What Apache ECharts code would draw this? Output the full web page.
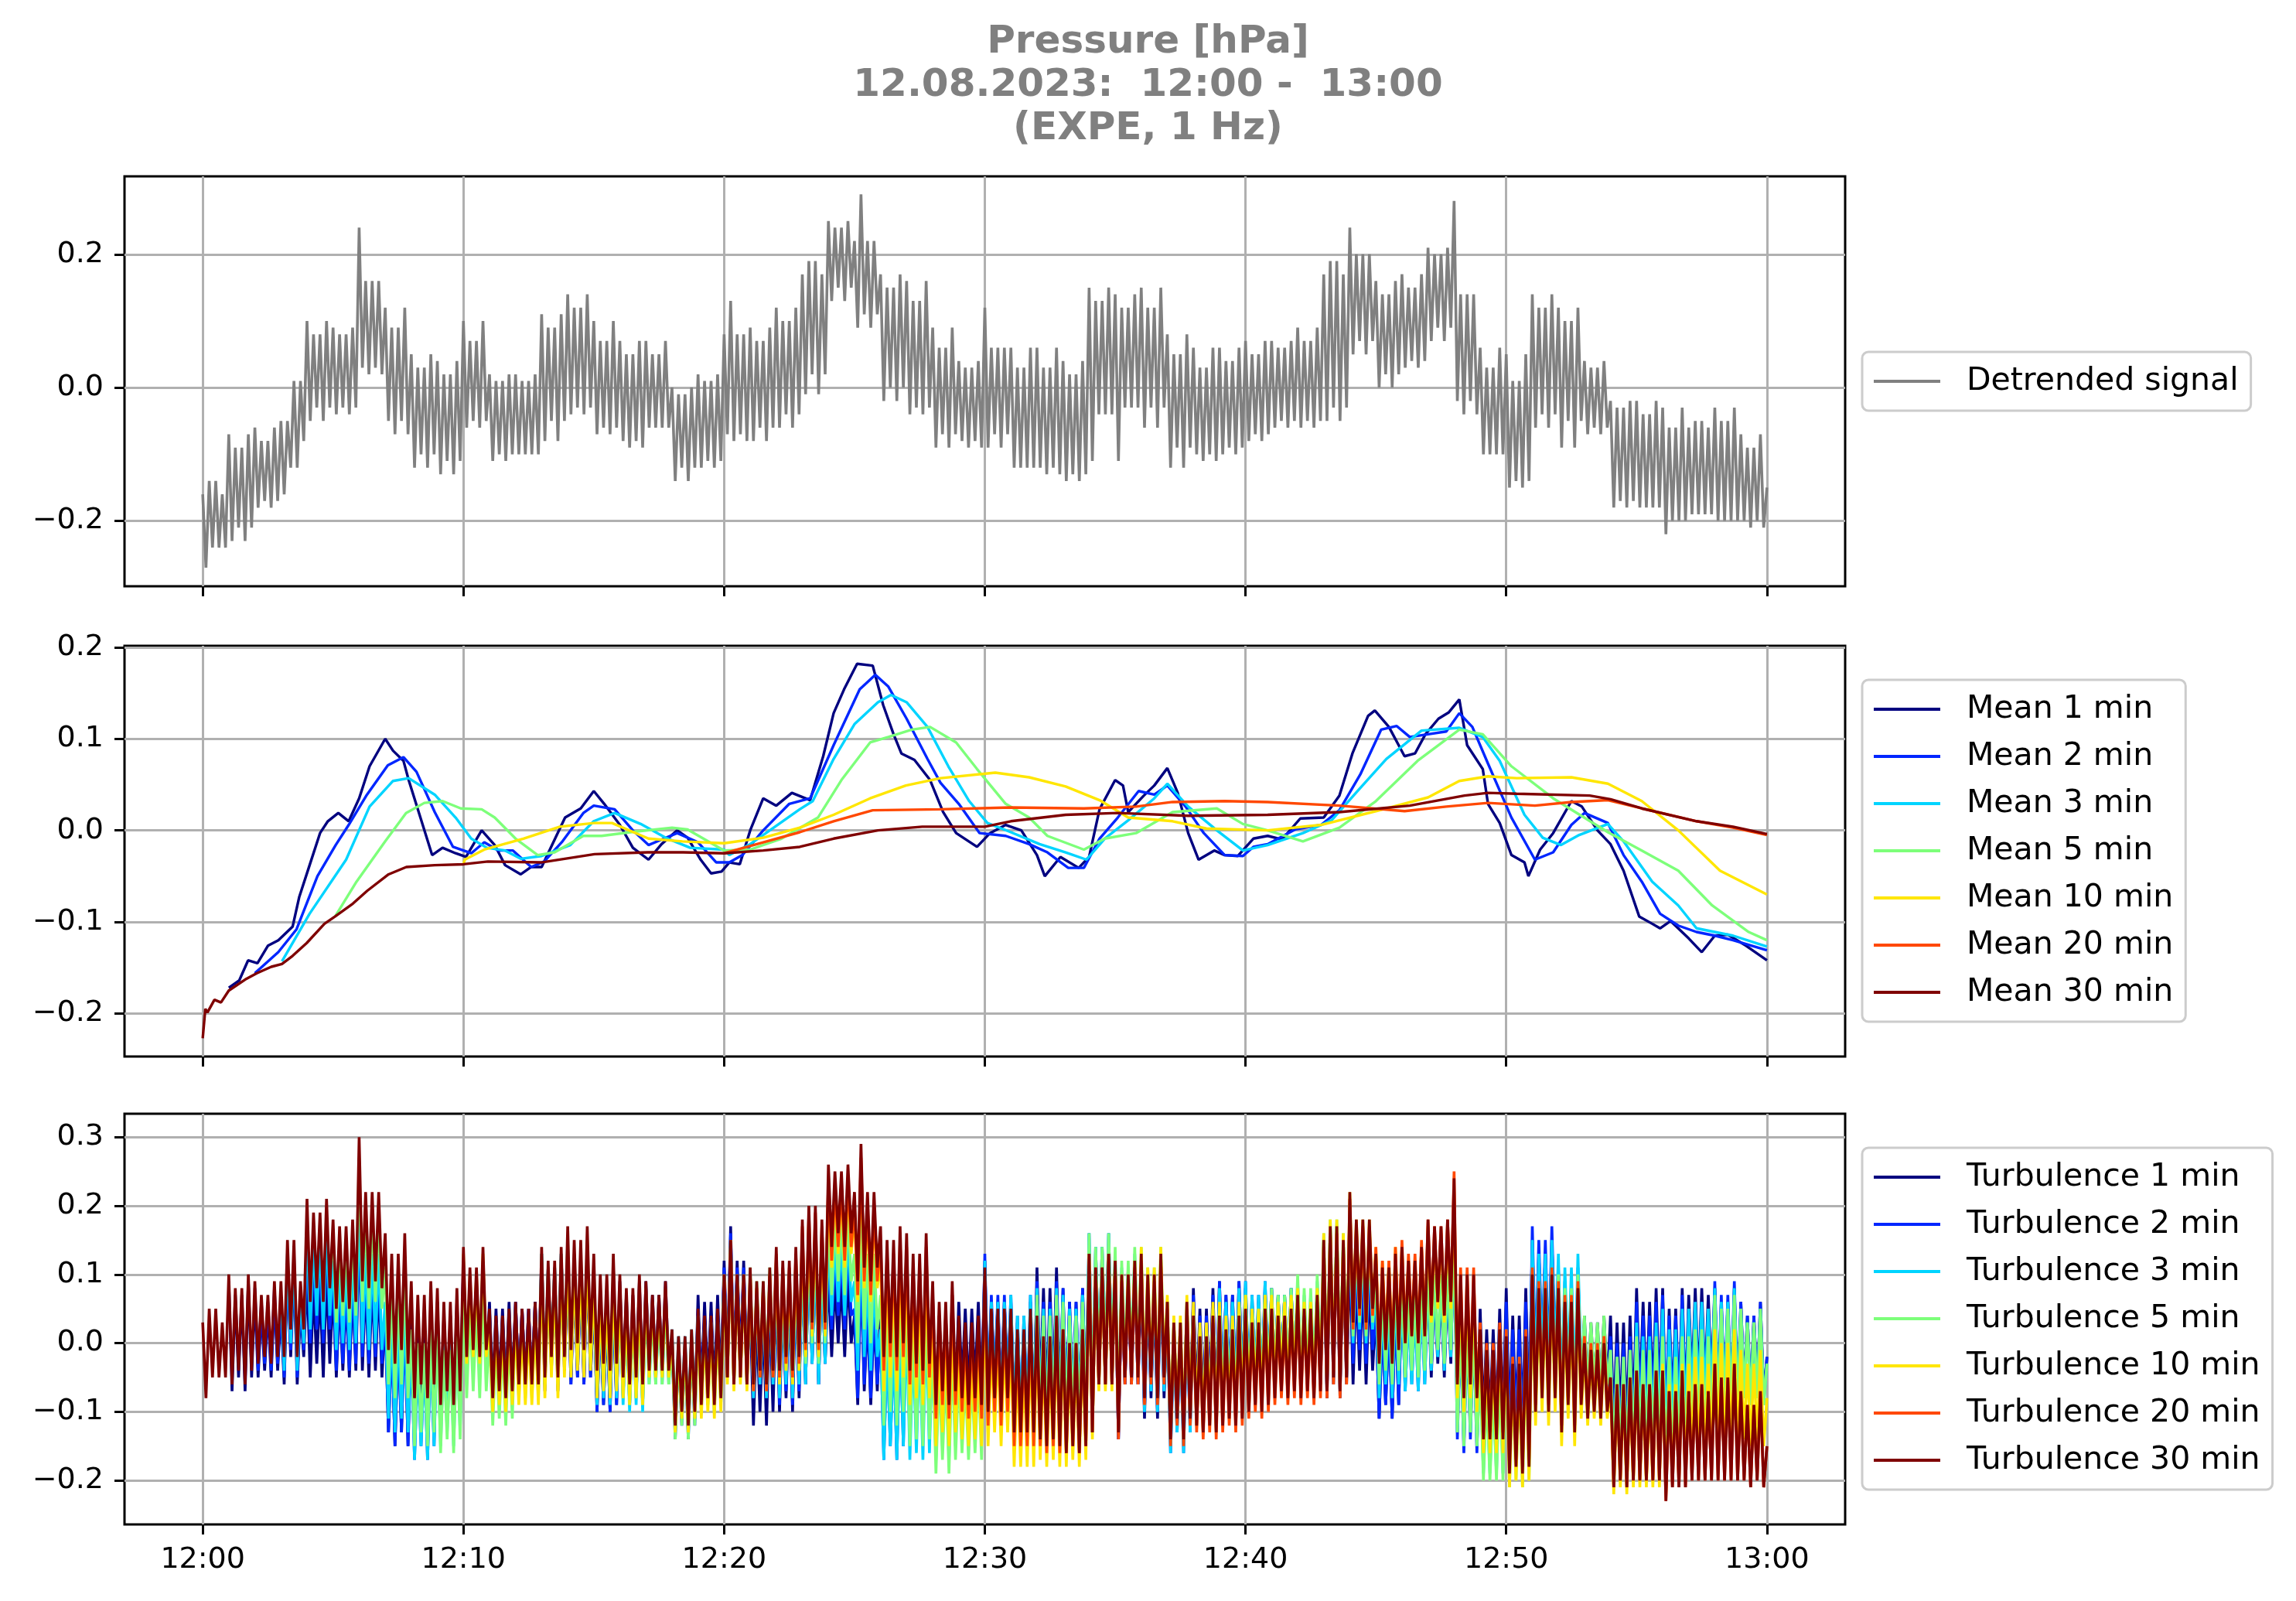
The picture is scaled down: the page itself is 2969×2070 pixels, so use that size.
<!DOCTYPE html>
<html>
<head>
<meta charset="utf-8">
<title>Pressure [hPa] 12.08.2023</title>
<script src="https://cdn.jsdelivr.net/npm/echarts@6.0.0/dist/echarts.min.js"></script>
<style>
  html, body { margin: 0; padding: 0; background: #fff; }
  #chart { width: 2969px; height: 2070px; }
</style>
</head>
<body>
<div id="chart"></div>
<script>
// ---- data (minutes after 12:00, hPa) ----
var stepMin = 0.125;

var signal = [
  -0.16,-0.27,-0.14,-0.24,-0.14,-0.24,-0.16,-0.24, -0.07,-0.23,-0.09,-0.21,-0.09,-0.23,-0.07,-0.21,
  -0.06,-0.18,-0.08,-0.17,-0.08,-0.18,-0.06,-0.17, -0.05,-0.16,-0.05,-0.12,0.01,-0.12,0.01,-0.08,
  0.10,-0.05,0.08,-0.03,0.08,-0.05,0.10,-0.03, 0.09,-0.04,0.08,-0.03,0.08,-0.04,0.09,-0.03,
  0.24,0.03,0.16,0.02,0.16,0.03,0.16,0.02, 0.12,-0.05,0.09,-0.07,0.09,-0.05,0.12,-0.07,
  0.05,-0.12,0.03,-0.10,0.03,-0.12,0.05,-0.10, 0.04,-0.13,0.02,-0.11,0.02,-0.13,0.04,-0.11,
  0.10,-0.06,0.07,-0.05,0.07,-0.06,0.10,-0.05, 0.02,-0.11,0.01,-0.10,0.01,-0.11,0.02,-0.10,
  0.02,-0.10,0.01,-0.10,0.01,-0.10,0.02,-0.10, 0.11,-0.08,0.09,-0.05,0.09,-0.08,0.11,-0.05,
  0.14,-0.04,0.12,-0.03,0.12,-0.04,0.14,-0.03, 0.10,-0.07,0.07,-0.06,0.07,-0.07,0.10,-0.06,
  0.07,-0.08,0.05,-0.09,0.05,-0.08,0.07,-0.09, 0.07,-0.06,0.05,-0.06,0.05,-0.06,0.07,-0.06,
  0.00,-0.14,-0.01,-0.12,-0.01,-0.14,0.00,-0.12, 0.02,-0.12,0.01,-0.11,0.01,-0.12,0.02,-0.11,
  0.08,-0.07,0.13,-0.08,0.08,-0.07,0.08,-0.08, 0.09,-0.08,0.07,-0.06,0.07,-0.08,0.09,-0.06,
  0.12,-0.06,0.10,-0.04,0.10,-0.06,0.12,-0.04, 0.17,-0.01,0.19,0.02,0.19,-0.01,0.17,0.02,
  0.25,0.13,0.24,0.15,0.24,0.13,0.25,0.15, 0.22,0.09,0.29,0.11,0.22,0.09,0.22,0.11,
  0.17,-0.02,0.15,0.00,0.15,-0.02,0.17,0.00, 0.16,-0.04,0.13,-0.03,0.13,-0.04,0.16,-0.03,
  0.09,-0.09,0.06,-0.07,0.06,-0.09,0.09,-0.07, 0.04,-0.08,0.03,-0.09,0.03,-0.08,0.04,-0.09,
  0.12,-0.09,0.06,-0.07,0.06,-0.09,0.06,-0.07, 0.06,-0.12,0.03,-0.12,0.03,-0.12,0.06,-0.12,
  0.06,-0.12,0.03,-0.13,0.03,-0.12,0.06,-0.13, 0.04,-0.14,0.02,-0.13,0.02,-0.14,0.04,-0.13,
  0.15,-0.11,0.13,-0.04,0.13,-0.04,0.15,-0.04, 0.14,-0.11,0.12,-0.03,0.12,-0.03,0.14,-0.03,
  0.15,-0.06,0.12,-0.03,0.12,-0.06,0.15,-0.03, 0.08,-0.12,0.05,-0.09,0.05,-0.12,0.08,-0.09,
  0.06,-0.10,0.03,-0.11,0.03,-0.10,0.06,-0.11, 0.06,-0.10,0.04,-0.09,0.04,-0.10,0.06,-0.09,
  0.07,-0.08,0.05,-0.07,0.05,-0.08,0.07,-0.07, 0.07,-0.06,0.06,-0.05,0.06,-0.06,0.07,-0.05,
  0.09,-0.06,0.07,-0.05,0.07,-0.06,0.09,-0.05, 0.17,-0.05,0.19,-0.03,0.19,-0.05,0.17,-0.03,
  0.24,0.05,0.20,0.07,0.20,0.05,0.20,0.07, 0.16,0.00,0.14,0.02,0.14,0.00,0.16,0.02,
  0.17,0.03,0.15,0.04,0.15,0.03,0.17,0.04, 0.21,0.07,0.20,0.09,0.20,0.07,0.21,0.09,
  0.28,-0.02,0.14,-0.04,0.14,-0.02,0.14,-0.04, 0.06,-0.10,0.03,-0.10,0.03,-0.10,0.06,-0.10,
  0.05,-0.15,0.01,-0.14,0.01,-0.15,0.05,-0.14, 0.14,-0.06,0.12,-0.04,0.12,-0.06,0.14,-0.04,
  0.12,-0.09,0.10,-0.05,0.10,-0.09,0.12,-0.05, 0.04,-0.07,0.03,-0.06,0.03,-0.07,0.04,-0.06,
  -0.02,-0.18,-0.03,-0.17,-0.03,-0.18,-0.02,-0.17, -0.02,-0.18,-0.04,-0.18,-0.04,-0.18,-0.02,-0.18,
  -0.03,-0.22,-0.06,-0.20,-0.06,-0.20,-0.03,-0.20, -0.06,-0.19,-0.05,-0.19,-0.05,-0.19,-0.06,-0.19,
  -0.03,-0.20,-0.05,-0.20,-0.05,-0.20,-0.03,-0.20, -0.07,-0.20,-0.09,-0.21,-0.09,-0.20,-0.07,-0.21,
  -0.15
];

// moving means, [minute, value]
var mean1 = [[1.0,-0.172],[1.4,-0.164],[1.74,-0.142],[2.1,-0.145],[2.5,-0.126],[2.9,-0.120],[3.45,-0.105],[3.7,-0.073],[4.1,-0.038],[4.5,-0.003],[4.8,0.010],[5.2,0.019],[5.6,0.010],[6.0,0.035],[6.4,0.070],[7.0,0.100],[7.3,0.087],[7.7,0.076],[7.9,0.055],[8.35,0.014],[8.8,-0.027],[9.2,-0.019],[9.7,-0.025],[10.1,-0.029],[10.7,0.0],[11.2,-0.016],[11.6,-0.038],[12.2,-0.048],[12.6,-0.040],[13.0,-0.040],[13.4,-0.016],[13.9,0.014],[14.5,0.024],[15.0,0.043],[15.4,0.029],[16.0,0.006],[16.5,-0.019],[17.1,-0.032],[17.6,-0.015],[18.2,0.0],[18.6,-0.008],[19.1,-0.032],[19.5,-0.047],[19.9,-0.045],[20.2,-0.035],[20.6,-0.037],[21.0,0.0],[21.5,0.035],[22.0,0.027],[22.6,0.041],[23.3,0.033],[23.8,0.081],[24.2,0.128],[24.6,0.154],[25.1,0.182],[25.7,0.180],[26.1,0.137],[26.5,0.105],[26.8,0.084],[27.3,0.077],[27.9,0.055],[28.4,0.020],[28.9,-0.003],[29.7,-0.018],[30.2,-0.003],[30.8,0.006],[31.4,0.0],[32.0,-0.027],[32.3,-0.050],[32.9,-0.029],[33.6,-0.041],[34.0,-0.029],[34.4,0.023],[35.0,0.055],[35.3,0.049],[35.5,0.020],[36.1,0.038],[36.5,0.049],[37.0,0.068],[37.4,0.041],[37.8,-0.003],[38.2,-0.032],[38.8,-0.022],[39.2,-0.027],[39.7,-0.028],[40.3,-0.009],[40.85,-0.006],[41.4,-0.010],[42.1,0.013],[43.0,0.014],[43.6,0.038],[44.1,0.084],[44.7,0.125],[44.96,0.131],[45.5,0.113],[46.1,0.081],[46.5,0.084],[46.9,0.105],[47.4,0.122],[47.8,0.129],[48.2,0.143],[48.5,0.093],[49.1,0.067],[49.3,0.029],[49.75,0.008],[50.2,-0.027],[50.7,-0.035],[50.85,-0.050],[51.3,-0.021],[51.8,-0.003],[52.5,0.032],[52.9,0.026],[53.5,0.0],[54.0,-0.015],[54.5,-0.044],[55.1,-0.094],[55.6,-0.102],[55.9,-0.107],[56.3,-0.099],[57.0,-0.118],[57.5,-0.133],[58.0,-0.115],[58.5,-0.114],[59.2,-0.126],[60,-0.142]];
var mean2 = [[2.0,-0.156],[2.9,-0.133],[3.6,-0.108],[4.4,-0.050],[5.1,-0.016],[5.6,0.006],[6.3,0.039],[7.1,0.071],[7.7,0.080],[8.2,0.064],[8.9,0.020],[9.6,-0.018],[10.3,-0.025],[10.8,-0.013],[11.35,-0.022],[11.9,-0.022],[12.6,-0.040],[13.1,-0.034],[13.8,-0.012],[14.6,0.019],[15.0,0.027],[15.8,0.023],[16.5,0.0],[17.1,-0.016],[17.6,-0.010],[18.2,-0.003],[19.0,-0.013],[19.7,-0.035],[20.2,-0.035],[20.7,-0.027],[21.5,0.0],[22.5,0.029],[23.3,0.035],[24.2,0.093],[25.2,0.154],[25.8,0.170],[26.3,0.157],[27.0,0.122],[27.8,0.078],[28.3,0.052],[29.0,0.029],[29.8,-0.003],[30.8,-0.006],[31.7,-0.015],[32.4,-0.024],[33.2,-0.041],[33.8,-0.041],[34.4,-0.009],[35.1,0.014],[35.9,0.043],[36.5,0.039],[37.0,0.049],[37.7,0.026],[38.4,-0.003],[39.2,-0.027],[39.9,-0.028],[40.3,-0.018],[40.85,-0.015],[41.9,0.001],[42.9,0.006],[43.6,0.022],[44.4,0.061],[45.2,0.110],[45.8,0.114],[46.3,0.102],[47.0,0.105],[47.7,0.108],[48.2,0.128],[48.7,0.113],[49.3,0.073],[50.2,0.014],[51.1,-0.032],[51.8,-0.024],[52.5,0.006],[53.0,0.019],[53.9,0.008],[54.5,-0.027],[55.2,-0.056],[55.9,-0.091],[56.6,-0.104],[57.3,-0.111],[58.0,-0.115],[58.7,-0.120],[60,-0.131]];
var mean3 = [[3.04,-0.143],[4.1,-0.091],[5.5,-0.032],[6.4,0.026],[7.3,0.054],[7.9,0.057],[8.9,0.039],[9.7,0.014],[10.3,-0.009],[10.9,-0.019],[11.6,-0.022],[12.2,-0.031],[13.0,-0.028],[14.1,-0.016],[15.0,0.010],[15.8,0.019],[16.8,0.007],[17.75,-0.008],[18.7,-0.019],[20.0,-0.021],[20.2,-0.027],[21.0,-0.015],[21.9,0.003],[22.9,0.023],[23.4,0.032],[24.2,0.078],[25.0,0.116],[25.9,0.140],[26.4,0.148],[27.0,0.140],[27.8,0.113],[28.6,0.070],[29.4,0.032],[30.1,0.008],[31.0,-0.002],[32.1,-0.015],[33.1,-0.024],[33.9,-0.032],[34.6,-0.009],[35.5,0.011],[36.5,0.035],[37.0,0.051],[37.8,0.026],[38.9,0.0],[39.9,-0.022],[40.85,-0.016],[42.2,-0.003],[43.3,0.011],[44.3,0.043],[45.4,0.078],[46.75,0.109],[48.2,0.112],[49.1,0.102],[49.75,0.076],[50.7,0.017],[51.4,-0.008],[52.1,-0.016],[52.8,-0.005],[53.9,0.007],[54.5,-0.012],[55.6,-0.056],[56.6,-0.082],[57.3,-0.107],[58.7,-0.115],[60,-0.127]];
var mean5 = [[5.08,-0.094],[5.9,-0.056],[7.0,-0.012],[7.8,0.019],[8.5,0.030],[9.2,0.032],[9.9,0.024],[10.7,0.023],[11.2,0.014],[12.0,-0.009],[12.85,-0.027],[13.5,-0.024],[14.6,-0.006],[15.3,-0.006],[16.4,-0.002],[18.0,0.003],[18.6,0.001],[20.0,-0.022],[21.0,-0.021],[22.2,-0.009],[23.6,0.014],[24.5,0.055],[25.6,0.096],[26.3,0.102],[27.2,0.110],[27.9,0.113],[28.9,0.096],[29.7,0.067],[30.8,0.029],[31.7,0.014],[32.4,-0.006],[33.8,-0.021],[34.6,-0.009],[35.8,-0.003],[37.2,0.020],[38.9,0.024],[39.9,0.007],[40.85,0.0],[42.2,-0.012],[43.6,0.003],[45.0,0.032],[46.6,0.076],[48.2,0.110],[49.1,0.105],[50.2,0.070],[51.8,0.035],[53.9,-0.002],[55.2,-0.022],[56.6,-0.044],[57.9,-0.082],[59.3,-0.111],[60,-0.120]];
var mean10 = [[10.0,-0.037],[10.05,-0.032],[10.8,-0.021],[12.3,-0.009],[13.7,0.004],[15.0,0.008],[15.7,0.008],[17.1,-0.009],[18.4,-0.012],[20.0,-0.014],[21.5,-0.008],[22.9,0.003],[24.2,0.017],[25.6,0.035],[26.97,0.049],[28.3,0.057],[30.4,0.063],[31.7,0.058],[33.1,0.048],[34.4,0.033],[35.5,0.014],[37.2,0.010],[38.5,0.002],[40.85,0.0],[42.9,0.006],[45.0,0.021],[47.0,0.036],[48.2,0.054],[49.3,0.059],[50.4,0.057],[52.5,0.058],[53.9,0.051],[55.2,0.032],[56.6,0.0],[58.2,-0.044],[60,-0.070]];
var mean20 = [[20.0,-0.025],[21.5,-0.013],[22.9,-0.002],[24.2,0.010],[25.7,0.022],[28.3,0.023],[31.0,0.025],[33.8,0.024],[35.8,0.026],[37.2,0.031],[39.2,0.032],[40.85,0.031],[43.6,0.027],[46.1,0.021],[47.7,0.026],[49.3,0.030],[51.1,0.027],[52.5,0.031],[53.9,0.033],[55.2,0.024],[57.3,0.010],[58.7,0.003],[60,-0.005]];
var mean30 = [[0,-0.227],[0.1,-0.195],[0.18,-0.199],[0.45,-0.185],[0.7,-0.188],[1.0,-0.175],[1.68,-0.162],[2.08,-0.156],[2.63,-0.149],[3.04,-0.146],[3.45,-0.137],[3.99,-0.123],[4.67,-0.102],[5.08,-0.094],[5.76,-0.080],[6.31,-0.066],[7.13,-0.048],[7.81,-0.040],[8.9,-0.038],[10,-0.037],[10.94,-0.034],[12.98,-0.035],[15.03,-0.026],[17.07,-0.024],[18.43,-0.024],[20,-0.025],[21.5,-0.022],[22.9,-0.018],[24.2,-0.009],[25.9,0.0],[27.6,0.004],[30.0,0.004],[31.0,0.010],[33.1,0.017],[35.1,0.019],[37.8,0.016],[40.85,0.017],[43.6,0.020],[46.3,0.027],[48.4,0.038],[49.3,0.041],[50.4,0.040],[53.2,0.038],[54.0,0.034],[55.2,0.024],[57.3,0.010],[58.7,0.004],[60,-0.004]];

// turbulences (signal minus mean); each starts at its window length
var turb1 = [
  0.09,-0.07,0.07,-0.05,0.07,-0.07,0.09,-0.05, 0.07,-0.05,0.05,-0.04,0.05,-0.05,0.07,-0.04,
  0.05,-0.06,0.11,-0.02,0.11,-0.06,0.05,-0.02, 0.10,-0.05,0.08,-0.03,0.08,-0.05,0.10,-0.03,
  0.08,-0.05,0.07,-0.04,0.07,-0.05,0.08,-0.04, 0.17,-0.04,0.09,-0.05,0.09,-0.04,0.09,-0.05,
  0.04,-0.13,0.01,-0.15,0.01,-0.13,0.04,-0.15, 0.06,-0.11,0.04,-0.09,0.04,-0.11,0.06,-0.09,
  0.06,-0.11,0.04,-0.09,0.04,-0.11,0.06,-0.09,
  0.11,-0.05,0.08,-0.04,0.08,-0.05,0.11,-0.04, 0.06,-0.07,0.05,-0.06,0.05,-0.07,0.06,-0.06,
  0.06,-0.06,0.05,-0.06,0.05,-0.06,0.06,-0.06, 0.12,-0.07,0.10,-0.04,0.10,-0.07,0.12,-0.04,
  0.12,-0.06,0.10,-0.05,0.10,-0.06,0.12,-0.05, 0.07,-0.10,0.04,-0.09,0.04,-0.10,0.07,-0.09,
  0.09,-0.06,0.07,-0.07,0.07,-0.06,0.09,-0.07, 0.09,-0.04,0.07,-0.04,0.07,-0.04,0.09,-0.04,
  0.01,-0.13,0.00,-0.11,0.00,-0.13,0.01,-0.11, 0.07,-0.07,0.06,-0.06,0.06,-0.07,0.07,-0.06,
  0.12,-0.03,0.17,-0.04,0.12,-0.03,0.12,-0.04, 0.05,-0.12,0.03,-0.10,0.03,-0.12,0.05,-0.10,
  0.08,-0.10,0.06,-0.08,0.06,-0.10,0.08,-0.08, 0.12,-0.06,0.14,-0.03,0.14,-0.06,0.12,-0.03,
  0.10,-0.02,0.09,0.00,0.09,-0.02,0.10,0.00, 0.04,-0.09,0.11,-0.07,0.04,-0.09,0.04,-0.07,
  0.06,-0.13,0.04,-0.11,0.04,-0.13,0.06,-0.11, 0.10,-0.10,0.07,-0.09,0.07,-0.10,0.10,-0.09,
  0.07,-0.11,0.04,-0.09,0.04,-0.11,0.07,-0.09, 0.06,-0.06,0.05,-0.07,0.05,-0.06,0.06,-0.07,
  0.12,-0.09,0.06,-0.07,0.06,-0.09,0.06,-0.07, 0.06,-0.12,0.03,-0.12,0.03,-0.12,0.06,-0.12,
  0.11,-0.07,0.08,-0.08,0.08,-0.07,0.11,-0.08, 0.08,-0.10,0.06,-0.09,0.06,-0.10,0.08,-0.09,
  0.13,-0.13,0.11,-0.06,0.11,-0.06,0.13,-0.06, 0.11,-0.14,0.09,-0.06,0.09,-0.06,0.11,-0.06,
  0.10,-0.11,0.07,-0.08,0.07,-0.11,0.10,-0.08, 0.06,-0.14,0.03,-0.11,0.03,-0.14,0.06,-0.11,
  0.08,-0.08,0.05,-0.09,0.05,-0.08,0.08,-0.09, 0.09,-0.07,0.07,-0.06,0.07,-0.07,0.09,-0.06,
  0.08,-0.07,0.06,-0.06,0.06,-0.07,0.08,-0.06, 0.08,-0.05,0.07,-0.04,0.07,-0.05,0.08,-0.04,
  0.08,-0.07,0.06,-0.06,0.06,-0.07,0.08,-0.06, 0.14,-0.08,0.16,-0.06,0.16,-0.08,0.14,-0.06,
  0.13,-0.06,0.09,-0.04,0.09,-0.06,0.09,-0.04, 0.05,-0.11,0.03,-0.09,0.03,-0.11,0.05,-0.09,
  0.09,-0.05,0.07,-0.04,0.07,-0.05,0.09,-0.04, 0.09,-0.05,0.08,-0.03,0.08,-0.05,0.09,-0.03,
  0.19,-0.11,0.05,-0.13,0.05,-0.11,0.05,-0.13, 0.05,-0.11,0.02,-0.11,0.02,-0.11,0.05,-0.11,
  0.08,-0.12,0.04,-0.11,0.04,-0.12,0.08,-0.11, 0.15,-0.05,0.13,-0.03,0.13,-0.05,0.15,-0.03,
  0.09,-0.12,0.07,-0.08,0.07,-0.12,0.09,-0.08, 0.04,-0.07,0.03,-0.06,0.03,-0.07,0.04,-0.06,
  0.04,-0.12,0.03,-0.11,0.03,-0.12,0.04,-0.11, 0.08,-0.08,0.06,-0.08,0.06,-0.08,0.08,-0.08,
  0.08,-0.11,0.05,-0.09,0.05,-0.09,0.08,-0.09, 0.07,-0.06,0.08,-0.06,0.08,-0.06,0.07,-0.06,
  0.08,-0.09,0.06,-0.09,0.06,-0.09,0.08,-0.09, 0.06,-0.07,0.04,-0.08,0.04,-0.07,0.06,-0.08,
  -0.02
];
var turb2 = [
  0.08,-0.04,0.06,-0.03,0.06,-0.04,0.08,-0.03, 0.06,-0.05,0.12,-0.01,0.12,-0.05,0.06,-0.01,
  0.15,0.00,0.13,0.02,0.13,0.00,0.15,0.02, 0.09,-0.04,0.08,-0.03,0.08,-0.04,0.09,-0.03,
  0.19,-0.02,0.11,-0.03,0.11,-0.02,0.11,-0.03, 0.04,-0.13,0.01,-0.15,0.01,-0.13,0.04,-0.15,
  0.00,-0.17,-0.02,-0.15,-0.02,-0.17,0.00,-0.15, 0.05,-0.12,0.03,-0.10,0.03,-0.12,0.05,-0.10,
  0.12,-0.04,0.09,-0.03,0.09,-0.04,0.12,-0.03, 0.04,-0.09,0.03,-0.08,0.03,-0.09,0.04,-0.08,
  0.06,-0.06,0.05,-0.06,0.05,-0.06,0.06,-0.06, 0.13,-0.06,0.11,-0.03,0.11,-0.06,0.13,-0.03,
  0.12,-0.06,0.10,-0.05,0.10,-0.06,0.12,-0.05, 0.07,-0.10,0.04,-0.09,0.04,-0.10,0.07,-0.09,
  0.07,-0.08,0.05,-0.09,0.05,-0.08,0.07,-0.09, 0.08,-0.05,0.06,-0.05,0.06,-0.05,0.08,-0.05,
  0.00,-0.14,-0.01,-0.12,-0.01,-0.14,0.00,-0.12, 0.05,-0.09,0.04,-0.08,0.04,-0.09,0.05,-0.08,
  0.11,-0.04,0.16,-0.05,0.11,-0.04,0.11,-0.05, 0.09,-0.08,0.07,-0.06,0.07,-0.08,0.09,-0.06,
  0.09,-0.09,0.07,-0.07,0.07,-0.09,0.09,-0.07, 0.12,-0.06,0.14,-0.03,0.14,-0.06,0.12,-0.03,
  0.14,0.02,0.13,0.04,0.13,0.02,0.14,0.04, 0.05,-0.08,0.12,-0.06,0.05,-0.08,0.05,-0.06,
  0.02,-0.17,0.00,-0.15,0.00,-0.17,0.02,-0.15, 0.07,-0.13,0.04,-0.12,0.04,-0.13,0.07,-0.12,
  0.04,-0.14,0.01,-0.12,0.01,-0.14,0.04,-0.12, 0.03,-0.09,0.02,-0.10,0.02,-0.09,0.03,-0.10,
  0.13,-0.08,0.07,-0.06,0.07,-0.08,0.07,-0.06, 0.07,-0.11,0.04,-0.11,0.04,-0.11,0.07,-0.11,
  0.09,-0.09,0.06,-0.10,0.06,-0.09,0.09,-0.10, 0.08,-0.10,0.06,-0.09,0.06,-0.10,0.08,-0.09,
  0.16,-0.10,0.14,-0.03,0.14,-0.03,0.16,-0.03, 0.11,-0.14,0.09,-0.06,0.09,-0.06,0.11,-0.06,
  0.11,-0.10,0.08,-0.07,0.08,-0.10,0.11,-0.07, 0.04,-0.16,0.01,-0.13,0.01,-0.16,0.04,-0.13,
  0.07,-0.09,0.04,-0.10,0.04,-0.09,0.07,-0.10, 0.09,-0.07,0.07,-0.06,0.07,-0.07,0.09,-0.06,
  0.09,-0.06,0.07,-0.05,0.07,-0.06,0.09,-0.05, 0.08,-0.05,0.07,-0.04,0.07,-0.05,0.08,-0.04,
  0.08,-0.07,0.06,-0.06,0.06,-0.07,0.08,-0.06, 0.15,-0.07,0.17,-0.05,0.17,-0.07,0.15,-0.05,
  0.16,-0.03,0.12,-0.01,0.12,-0.03,0.12,-0.01, 0.05,-0.11,0.03,-0.09,0.03,-0.11,0.05,-0.09,
  0.07,-0.07,0.05,-0.06,0.05,-0.07,0.07,-0.06, 0.10,-0.04,0.09,-0.02,0.09,-0.04,0.10,-0.02,
  0.16,-0.14,0.02,-0.16,0.02,-0.14,0.02,-0.16, 0.00,-0.16,-0.03,-0.16,-0.03,-0.16,0.00,-0.16,
  0.06,-0.14,0.02,-0.13,0.02,-0.14,0.06,-0.13, 0.17,-0.03,0.15,-0.01,0.15,-0.03,0.17,-0.01,
  0.11,-0.10,0.09,-0.06,0.09,-0.10,0.11,-0.06, 0.03,-0.08,0.02,-0.07,0.02,-0.08,0.03,-0.07,
  0.01,-0.15,0.00,-0.14,0.00,-0.15,0.01,-0.14, 0.06,-0.10,0.04,-0.10,0.04,-0.10,0.06,-0.10,
  0.07,-0.12,0.04,-0.10,0.04,-0.10,0.07,-0.10, 0.05,-0.08,0.06,-0.08,0.06,-0.08,0.05,-0.08,
  0.09,-0.08,0.07,-0.08,0.07,-0.08,0.09,-0.08, 0.06,-0.07,0.04,-0.08,0.04,-0.07,0.06,-0.08,
  -0.02
];
var turb3 = [
  0.07,-0.04,0.13,0.00,0.13,-0.04,0.07,0.00, 0.17,0.02,0.15,0.04,0.15,0.02,0.17,0.04,
  0.12,-0.01,0.11,0.00,0.11,-0.01,0.12,0.00, 0.21,0.00,0.13,-0.01,0.13,0.00,0.13,-0.01,
  0.06,-0.11,0.03,-0.13,0.03,-0.11,0.06,-0.13, 0.00,-0.17,-0.02,-0.15,-0.02,-0.17,0.00,-0.15,
  0.02,-0.15,0.00,-0.13,0.00,-0.15,0.02,-0.13,
  0.11,-0.05,0.08,-0.04,0.08,-0.05,0.11,-0.04, 0.04,-0.09,0.03,-0.08,0.03,-0.09,0.04,-0.08,
  0.05,-0.07,0.04,-0.07,0.04,-0.07,0.05,-0.07, 0.13,-0.06,0.11,-0.03,0.11,-0.06,0.13,-0.03,
  0.14,-0.04,0.12,-0.03,0.12,-0.04,0.14,-0.03, 0.08,-0.09,0.05,-0.08,0.05,-0.09,0.08,-0.08,
  0.06,-0.09,0.04,-0.10,0.04,-0.09,0.06,-0.10, 0.07,-0.06,0.05,-0.06,0.05,-0.06,0.07,-0.06,
  0.02,-0.12,0.01,-0.10,0.01,-0.12,0.02,-0.10, 0.04,-0.10,0.03,-0.09,0.03,-0.10,0.04,-0.09,
  0.10,-0.05,0.15,-0.06,0.10,-0.05,0.10,-0.06, 0.09,-0.08,0.07,-0.06,0.07,-0.08,0.09,-0.06,
  0.10,-0.08,0.08,-0.06,0.08,-0.08,0.10,-0.06, 0.12,-0.06,0.14,-0.03,0.14,-0.06,0.12,-0.03,
  0.16,0.04,0.15,0.06,0.15,0.04,0.16,0.06, 0.09,-0.04,0.16,-0.02,0.09,-0.04,0.09,-0.02,
  0.02,-0.17,0.00,-0.15,0.00,-0.17,0.02,-0.15, 0.03,-0.17,0.00,-0.16,0.00,-0.17,0.03,-0.16,
  0.01,-0.17,-0.02,-0.15,-0.02,-0.17,0.01,-0.15, 0.01,-0.11,0.00,-0.12,0.00,-0.11,0.01,-0.12,
  0.12,-0.09,0.06,-0.07,0.06,-0.09,0.06,-0.07, 0.07,-0.11,0.04,-0.11,0.04,-0.11,0.07,-0.11,
  0.08,-0.10,0.05,-0.11,0.05,-0.10,0.08,-0.11, 0.07,-0.11,0.05,-0.10,0.05,-0.11,0.07,-0.10,
  0.16,-0.10,0.14,-0.03,0.14,-0.03,0.16,-0.03, 0.13,-0.12,0.11,-0.04,0.11,-0.04,0.13,-0.04,
  0.11,-0.10,0.08,-0.07,0.08,-0.10,0.11,-0.07, 0.04,-0.16,0.01,-0.13,0.01,-0.16,0.04,-0.13,
  0.05,-0.11,0.02,-0.12,0.02,-0.11,0.05,-0.12, 0.08,-0.08,0.06,-0.07,0.06,-0.08,0.08,-0.07,
  0.09,-0.06,0.07,-0.05,0.07,-0.06,0.09,-0.05, 0.08,-0.05,0.07,-0.04,0.07,-0.05,0.08,-0.04,
  0.09,-0.06,0.07,-0.05,0.07,-0.06,0.09,-0.05, 0.15,-0.07,0.17,-0.05,0.17,-0.07,0.15,-0.05,
  0.19,0.00,0.15,0.02,0.15,0.00,0.15,0.02, 0.08,-0.08,0.06,-0.06,0.06,-0.08,0.08,-0.06,
  0.07,-0.07,0.05,-0.06,0.05,-0.07,0.07,-0.06, 0.10,-0.04,0.09,-0.02,0.09,-0.04,0.10,-0.02,
  0.17,-0.13,0.03,-0.15,0.03,-0.13,0.03,-0.15, -0.03,-0.19,-0.06,-0.19,-0.06,-0.19,-0.03,-0.19,
  0.02,-0.18,-0.02,-0.17,-0.02,-0.18,0.02,-0.17, 0.15,-0.05,0.13,-0.03,0.13,-0.05,0.15,-0.03,
  0.13,-0.08,0.11,-0.04,0.11,-0.08,0.13,-0.04, 0.03,-0.08,0.02,-0.07,0.02,-0.08,0.03,-0.07,
  -0.01,-0.17,-0.02,-0.16,-0.02,-0.17,-0.01,-0.16, 0.03,-0.13,0.01,-0.13,0.01,-0.13,0.03,-0.13,
  0.05,-0.14,0.02,-0.12,0.02,-0.12,0.05,-0.12, 0.05,-0.08,0.06,-0.08,0.06,-0.08,0.05,-0.08,
  0.08,-0.09,0.06,-0.09,0.06,-0.09,0.08,-0.09, 0.05,-0.08,0.03,-0.09,0.03,-0.08,0.05,-0.09,
  -0.03
];
var turb5 = [
  0.16,0.03,0.15,0.04,0.15,0.03,0.16,0.04, 0.27,0.06,0.19,0.05,0.19,0.06,0.19,0.05,
  0.11,-0.06,0.08,-0.08,0.08,-0.06,0.11,-0.08, 0.02,-0.15,0.00,-0.13,0.00,-0.15,0.02,-0.13,
  0.01,-0.16,-0.01,-0.14,-0.01,-0.16,0.01,-0.14,
  0.08,-0.08,0.05,-0.07,0.05,-0.08,0.08,-0.07, 0.01,-0.12,0.00,-0.11,0.00,-0.12,0.01,-0.11,
  0.04,-0.08,0.03,-0.08,0.03,-0.08,0.04,-0.08, 0.13,-0.06,0.11,-0.03,0.11,-0.06,0.13,-0.03,
  0.15,-0.03,0.13,-0.02,0.13,-0.03,0.15,-0.02, 0.11,-0.06,0.08,-0.05,0.08,-0.06,0.11,-0.05,
  0.07,-0.08,0.05,-0.09,0.05,-0.08,0.07,-0.09, 0.07,-0.06,0.05,-0.06,0.05,-0.06,0.07,-0.06,
  0.00,-0.14,-0.01,-0.12,-0.01,-0.14,0.00,-0.12, 0.04,-0.10,0.03,-0.09,0.03,-0.10,0.04,-0.09,
  0.10,-0.05,0.15,-0.06,0.10,-0.05,0.10,-0.06, 0.11,-0.06,0.09,-0.04,0.09,-0.06,0.11,-0.04,
  0.12,-0.06,0.10,-0.04,0.10,-0.06,0.12,-0.04, 0.15,-0.03,0.17,0.00,0.17,-0.03,0.15,0.00,
  0.19,0.07,0.18,0.09,0.18,0.07,0.19,0.09, 0.13,0.00,0.20,0.02,0.13,0.00,0.13,0.02,
  0.07,-0.12,0.05,-0.10,0.05,-0.12,0.07,-0.10, 0.05,-0.15,0.02,-0.14,0.02,-0.15,0.05,-0.14,
  -0.01,-0.19,-0.04,-0.17,-0.04,-0.19,-0.01,-0.17, -0.04,-0.16,-0.05,-0.17,-0.05,-0.16,-0.04,-0.17,
  0.08,-0.13,0.02,-0.11,0.02,-0.13,0.02,-0.11, 0.04,-0.14,0.01,-0.14,0.01,-0.14,0.04,-0.14,
  0.07,-0.11,0.04,-0.12,0.04,-0.11,0.07,-0.12, 0.06,-0.12,0.04,-0.11,0.04,-0.12,0.06,-0.11,
  0.16,-0.10,0.14,-0.03,0.14,-0.03,0.16,-0.03, 0.14,-0.11,0.12,-0.03,0.12,-0.03,0.14,-0.03,
  0.14,-0.07,0.11,-0.04,0.11,-0.07,0.14,-0.04, 0.06,-0.14,0.03,-0.11,0.03,-0.14,0.06,-0.11,
  0.04,-0.12,0.01,-0.13,0.01,-0.12,0.04,-0.13, 0.05,-0.11,0.03,-0.10,0.03,-0.11,0.05,-0.10,
  0.07,-0.08,0.05,-0.07,0.05,-0.08,0.07,-0.07, 0.08,-0.05,0.07,-0.04,0.07,-0.05,0.08,-0.04,
  0.10,-0.05,0.08,-0.04,0.08,-0.05,0.10,-0.04, 0.16,-0.06,0.18,-0.04,0.18,-0.06,0.16,-0.04,
  0.20,0.01,0.16,0.03,0.16,0.01,0.16,0.03, 0.10,-0.06,0.08,-0.04,0.08,-0.06,0.10,-0.04,
  0.09,-0.05,0.07,-0.04,0.07,-0.05,0.09,-0.04, 0.11,-0.03,0.10,-0.01,0.10,-0.03,0.11,-0.01,
  0.17,-0.13,0.03,-0.15,0.03,-0.13,0.03,-0.15, -0.04,-0.20,-0.07,-0.20,-0.07,-0.20,-0.04,-0.20,
  -0.01,-0.21,-0.05,-0.20,-0.05,-0.21,-0.01,-0.20, 0.10,-0.10,0.08,-0.08,0.08,-0.10,0.10,-0.08,
  0.10,-0.11,0.08,-0.07,0.08,-0.11,0.10,-0.07, 0.04,-0.07,0.03,-0.06,0.03,-0.07,0.04,-0.06,
  -0.01,-0.17,-0.02,-0.16,-0.02,-0.17,-0.01,-0.16, 0.01,-0.15,-0.01,-0.15,-0.01,-0.15,0.01,-0.15,
  0.01,-0.18,-0.02,-0.16,-0.02,-0.16,0.01,-0.16, 0.01,-0.12,0.02,-0.12,0.02,-0.12,0.01,-0.12,
  0.07,-0.10,0.05,-0.10,0.05,-0.10,0.07,-0.10, 0.05,-0.08,0.03,-0.09,0.03,-0.08,0.05,-0.09,
  -0.03
];
var turb10 = [
  0.13,-0.03,0.10,-0.02,0.10,-0.03,0.13,-0.02, 0.03,-0.10,0.02,-0.09,0.02,-0.10,0.03,-0.09,
  0.03,-0.09,0.02,-0.09,0.02,-0.09,0.03,-0.09, 0.11,-0.08,0.09,-0.05,0.09,-0.08,0.11,-0.05,
  0.13,-0.05,0.11,-0.04,0.11,-0.05,0.13,-0.04, 0.09,-0.08,0.06,-0.07,0.06,-0.08,0.09,-0.07,
  0.07,-0.08,0.05,-0.09,0.05,-0.08,0.07,-0.09, 0.08,-0.05,0.06,-0.05,0.06,-0.05,0.08,-0.05,
  0.01,-0.13,0.00,-0.11,0.00,-0.13,0.01,-0.11, 0.03,-0.11,0.02,-0.10,0.02,-0.11,0.03,-0.10,
  0.09,-0.06,0.14,-0.07,0.09,-0.06,0.09,-0.07, 0.10,-0.07,0.08,-0.05,0.08,-0.07,0.10,-0.05,
  0.12,-0.06,0.10,-0.04,0.10,-0.06,0.12,-0.04, 0.16,-0.02,0.18,0.01,0.18,-0.02,0.16,0.01,
  0.23,0.11,0.22,0.13,0.22,0.11,0.23,0.13, 0.19,0.06,0.26,0.08,0.19,0.06,0.19,0.08,
  0.12,-0.07,0.10,-0.05,0.10,-0.07,0.12,-0.05, 0.11,-0.09,0.08,-0.08,0.08,-0.09,0.11,-0.08,
  0.03,-0.15,0.00,-0.13,0.00,-0.15,0.03,-0.13, -0.02,-0.14,-0.03,-0.15,-0.03,-0.14,-0.02,-0.15,
  0.06,-0.15,0.00,-0.13,0.00,-0.15,0.00,-0.13, 0.00,-0.18,-0.03,-0.18,-0.03,-0.18,0.00,-0.18,
  0.01,-0.17,-0.02,-0.18,-0.02,-0.17,0.01,-0.18, 0.00,-0.18,-0.02,-0.17,-0.02,-0.18,0.00,-0.17,
  0.12,-0.14,0.10,-0.07,0.10,-0.07,0.12,-0.07, 0.12,-0.13,0.10,-0.05,0.10,-0.05,0.12,-0.05,
  0.14,-0.07,0.11,-0.04,0.11,-0.07,0.14,-0.04, 0.07,-0.13,0.04,-0.10,0.04,-0.13,0.07,-0.10,
  0.06,-0.10,0.03,-0.11,0.03,-0.10,0.06,-0.11, 0.06,-0.10,0.04,-0.09,0.04,-0.10,0.06,-0.09,
  0.07,-0.08,0.05,-0.07,0.05,-0.08,0.07,-0.07, 0.07,-0.06,0.06,-0.05,0.06,-0.06,0.07,-0.05,
  0.08,-0.07,0.06,-0.06,0.06,-0.07,0.08,-0.06, 0.16,-0.06,0.18,-0.04,0.18,-0.06,0.16,-0.04,
  0.22,0.03,0.18,0.05,0.18,0.03,0.18,0.05, 0.14,-0.02,0.12,0.00,0.12,-0.02,0.14,0.00,
  0.14,0.00,0.12,0.01,0.12,0.00,0.14,0.01, 0.17,0.03,0.16,0.05,0.16,0.03,0.17,0.05,
  0.22,-0.08,0.08,-0.10,0.08,-0.08,0.08,-0.10, 0.00,-0.16,-0.03,-0.16,-0.03,-0.16,0.00,-0.16,
  -0.01,-0.21,-0.05,-0.20,-0.05,-0.21,-0.01,-0.20, 0.08,-0.12,0.06,-0.10,0.06,-0.12,0.08,-0.10,
  0.06,-0.15,0.04,-0.11,0.04,-0.15,0.06,-0.11, -0.01,-0.12,-0.02,-0.11,-0.02,-0.12,-0.01,-0.11,
  -0.06,-0.22,-0.07,-0.21,-0.07,-0.22,-0.06,-0.21, -0.05,-0.21,-0.07,-0.21,-0.07,-0.21,-0.05,-0.21,
  -0.03,-0.22,-0.06,-0.20,-0.06,-0.20,-0.03,-0.20, -0.03,-0.16,-0.02,-0.16,-0.02,-0.16,-0.03,-0.16,
  0.02,-0.15,0.00,-0.15,0.00,-0.15,0.02,-0.15, -0.01,-0.14,-0.03,-0.15,-0.03,-0.14,-0.01,-0.15,
  -0.08
];
var turb20 = [
  0.10,-0.05,0.15,-0.06,0.10,-0.05,0.10,-0.06, 0.10,-0.07,0.08,-0.05,0.08,-0.07,0.10,-0.05,
  0.13,-0.05,0.11,-0.03,0.11,-0.05,0.13,-0.03, 0.17,-0.01,0.19,0.02,0.19,-0.01,0.17,0.02,
  0.24,0.12,0.23,0.14,0.23,0.12,0.24,0.14, 0.20,0.07,0.27,0.09,0.20,0.07,0.20,0.09,
  0.15,-0.04,0.13,-0.02,0.13,-0.04,0.15,-0.02, 0.14,-0.06,0.11,-0.05,0.11,-0.06,0.14,-0.05,
  0.07,-0.11,0.04,-0.09,0.04,-0.11,0.07,-0.09, 0.02,-0.10,0.01,-0.11,0.01,-0.10,0.02,-0.11,
  0.09,-0.12,0.03,-0.10,0.03,-0.12,0.03,-0.10, 0.03,-0.15,0.00,-0.15,0.00,-0.15,0.03,-0.15,
  0.03,-0.15,0.00,-0.16,0.00,-0.15,0.03,-0.16, 0.02,-0.16,0.00,-0.15,0.00,-0.16,0.02,-0.15,
  0.13,-0.13,0.11,-0.06,0.11,-0.06,0.13,-0.06, 0.11,-0.14,0.09,-0.06,0.09,-0.06,0.11,-0.06,
  0.12,-0.09,0.09,-0.06,0.09,-0.09,0.12,-0.06, 0.05,-0.15,0.02,-0.12,0.02,-0.15,0.05,-0.12,
  0.03,-0.13,0.00,-0.14,0.00,-0.13,0.03,-0.14, 0.03,-0.13,0.01,-0.12,0.01,-0.13,0.03,-0.12,
  0.04,-0.11,0.02,-0.10,0.02,-0.11,0.04,-0.10, 0.04,-0.09,0.03,-0.08,0.03,-0.09,0.04,-0.08,
  0.06,-0.09,0.04,-0.08,0.04,-0.09,0.06,-0.08, 0.14,-0.08,0.16,-0.06,0.16,-0.08,0.14,-0.06,
  0.21,0.02,0.17,0.04,0.17,0.02,0.17,0.04, 0.14,-0.02,0.12,0.00,0.12,-0.02,0.14,0.00,
  0.15,0.01,0.13,0.02,0.13,0.01,0.15,0.02, 0.18,0.04,0.17,0.06,0.17,0.04,0.18,0.06,
  0.25,-0.05,0.11,-0.07,0.11,-0.05,0.11,-0.07, 0.03,-0.13,0.00,-0.13,0.00,-0.13,0.03,-0.13,
  0.02,-0.18,-0.02,-0.17,-0.02,-0.18,0.02,-0.17, 0.11,-0.09,0.09,-0.07,0.09,-0.09,0.11,-0.07,
  0.09,-0.12,0.07,-0.08,0.07,-0.12,0.09,-0.08, 0.01,-0.10,0.00,-0.09,0.00,-0.10,0.01,-0.09,
  -0.05,-0.21,-0.06,-0.20,-0.06,-0.21,-0.05,-0.20, -0.04,-0.20,-0.06,-0.20,-0.06,-0.20,-0.04,-0.20,
  -0.04,-0.23,-0.07,-0.21,-0.07,-0.21,-0.04,-0.21, -0.07,-0.20,-0.06,-0.20,-0.06,-0.20,-0.07,-0.20,
  -0.03,-0.20,-0.05,-0.20,-0.05,-0.20,-0.03,-0.20, -0.07,-0.20,-0.09,-0.21,-0.09,-0.20,-0.07,-0.21,
  -0.15
];
var turb30 = [
  0.03,-0.08,0.05,-0.05,0.05,-0.05,0.03,-0.05, 0.10,-0.06,0.08,-0.04,0.08,-0.06,0.10,-0.04,
  0.09,-0.03,0.07,-0.02,0.07,-0.03,0.09,-0.02, 0.09,-0.02,0.15,0.02,0.15,-0.02,0.09,0.02,
  0.21,0.06,0.19,0.08,0.19,0.06,0.21,0.08, 0.18,0.05,0.17,0.06,0.17,0.05,0.18,0.06,
  0.30,0.09,0.22,0.08,0.22,0.09,0.22,0.08, 0.16,-0.01,0.13,-0.03,0.13,-0.01,0.16,-0.03,
  0.09,-0.08,0.07,-0.06,0.07,-0.08,0.09,-0.06, 0.08,-0.09,0.06,-0.07,0.06,-0.09,0.08,-0.07,
  0.14,-0.02,0.11,-0.01,0.11,-0.02,0.14,-0.01, 0.05,-0.08,0.04,-0.07,0.04,-0.08,0.05,-0.07,
  0.06,-0.06,0.05,-0.06,0.05,-0.06,0.06,-0.06, 0.14,-0.05,0.12,-0.02,0.12,-0.05,0.14,-0.02,
  0.17,-0.01,0.15,0.00,0.15,-0.01,0.17,0.00, 0.13,-0.04,0.10,-0.03,0.10,-0.04,0.13,-0.03,
  0.10,-0.05,0.08,-0.06,0.08,-0.05,0.10,-0.06, 0.09,-0.04,0.07,-0.04,0.07,-0.04,0.09,-0.04,
  0.02,-0.12,0.01,-0.10,0.01,-0.12,0.02,-0.10, 0.05,-0.09,0.04,-0.08,0.04,-0.09,0.05,-0.08,
  0.10,-0.05,0.15,-0.06,0.10,-0.05,0.10,-0.06, 0.11,-0.06,0.09,-0.04,0.09,-0.06,0.11,-0.04,
  0.14,-0.04,0.12,-0.02,0.12,-0.04,0.14,-0.02, 0.18,0.00,0.20,0.03,0.20,0.00,0.18,0.03,
  0.26,0.14,0.25,0.16,0.25,0.14,0.26,0.16, 0.22,0.09,0.29,0.11,0.22,0.09,0.22,0.11,
  0.17,-0.02,0.15,0.00,0.15,-0.02,0.17,0.00, 0.16,-0.04,0.13,-0.03,0.13,-0.04,0.16,-0.03,
  0.09,-0.09,0.06,-0.07,0.06,-0.09,0.09,-0.07, 0.04,-0.08,0.03,-0.09,0.03,-0.08,0.04,-0.09,
  0.11,-0.10,0.05,-0.08,0.05,-0.10,0.05,-0.08, 0.05,-0.13,0.02,-0.13,0.02,-0.13,0.05,-0.13,
  0.04,-0.14,0.01,-0.15,0.01,-0.14,0.04,-0.15, 0.02,-0.16,0.00,-0.15,0.00,-0.16,0.02,-0.15,
  0.13,-0.13,0.11,-0.06,0.11,-0.06,0.13,-0.06, 0.12,-0.13,0.10,-0.05,0.10,-0.05,0.12,-0.05,
  0.13,-0.08,0.10,-0.05,0.10,-0.08,0.13,-0.05, 0.06,-0.14,0.03,-0.11,0.03,-0.14,0.06,-0.11,
  0.04,-0.12,0.01,-0.13,0.01,-0.12,0.04,-0.13, 0.04,-0.12,0.02,-0.11,0.02,-0.12,0.04,-0.11,
  0.05,-0.10,0.03,-0.09,0.03,-0.10,0.05,-0.09, 0.05,-0.08,0.04,-0.07,0.04,-0.08,0.05,-0.07,
  0.07,-0.08,0.05,-0.07,0.05,-0.08,0.07,-0.07, 0.15,-0.07,0.17,-0.05,0.17,-0.07,0.15,-0.05,
  0.22,0.03,0.18,0.05,0.18,0.03,0.18,0.05, 0.13,-0.03,0.11,-0.01,0.11,-0.03,0.13,-0.01,
  0.14,0.00,0.12,0.01,0.12,0.00,0.14,0.01, 0.18,0.04,0.17,0.06,0.17,0.04,0.18,0.06,
  0.24,-0.06,0.10,-0.08,0.10,-0.06,0.10,-0.08, 0.02,-0.14,-0.01,-0.14,-0.01,-0.14,0.02,-0.14,
  0.01,-0.19,-0.03,-0.18,-0.03,-0.19,0.01,-0.18, 0.10,-0.10,0.08,-0.08,0.08,-0.10,0.10,-0.08,
  0.08,-0.13,0.06,-0.09,0.06,-0.13,0.08,-0.09, 0.00,-0.11,-0.01,-0.10,-0.01,-0.11,0.00,-0.10,
  -0.05,-0.21,-0.06,-0.20,-0.06,-0.21,-0.05,-0.20, -0.04,-0.20,-0.06,-0.20,-0.06,-0.20,-0.04,-0.20,
  -0.04,-0.23,-0.07,-0.21,-0.07,-0.21,-0.04,-0.21, -0.07,-0.20,-0.06,-0.20,-0.06,-0.20,-0.07,-0.20,
  -0.03,-0.20,-0.05,-0.20,-0.05,-0.20,-0.03,-0.20, -0.07,-0.20,-0.09,-0.21,-0.09,-0.20,-0.07,-0.21,
  -0.15
];

var windows = [1, 2, 3, 5, 10, 20, 30];                 // minutes
var means = [mean1, mean2, mean3, mean5, mean10, mean20, mean30];
var turbs = [turb1, turb2, turb3, turb5, turb10, turb20, turb30];
var turbStart = [1, 2, 3, 5, 10, 20, 0];                // first sample, minutes
var jetColors = ['#00007f', '#0026ff', '#00d4ff', '#7dff7a', '#ffe600', '#ff4800', '#7f0000'];

var xTicks = [0, 10, 20, 30, 40, 50, 60];
var yTicks = [[-0.2, 0, 0.2], [-0.2, -0.1, 0, 0.1, 0.2], [-0.2, -0.1, 0, 0.1, 0.2, 0.3]];
var yLimits = [[-0.298, 0.317], [-0.247, 0.2016], [-0.264, 0.334]];

// ---- chart ----
var FONT = 'DejaVu Sans';
var chart = echarts.init(document.getElementById('chart'), null, {renderer: 'canvas', width: 2969, height: 2070});

function toPairs(start, vals) {
    return vals.map(function (v, i) { return [start + i * stepMin, v]; });
}
function fmtTime(v) {
    var h = 12 + Math.floor(v / 60 + 1e-9);
    var m = Math.round(v - (h - 12) * 60);
    return h + ':' + (m < 10 ? '0' + m : m);
}
function fmtY(v) {
    if (Math.abs(v) < 1e-9) return '0.0';
    var s = Math.abs(v).toFixed(1);
    return v < 0 ? '\u2212' + s : s;
}

var gridBoxes = [
    {left: 161, width: 2225, top: 228, height: 530},
    {left: 161, width: 2225, top: 835, height: 531},
    {left: 161, width: 2225, top: 1440, height: 531}
];
var splitNumbers = [3, 5, 5];

var xAxes = [], yAxes = [], grids = [];
for (var g = 0; g < 3; g++) {
    grids.push(Object.assign({show: true, borderColor: '#000', borderWidth: 3, backgroundColor: '#fff'}, gridBoxes[g]));
    xAxes.push({
        type: 'value', gridIndex: g, min: -3, max: 63, splitNumber: 5,
        axisLine: {show: false, onZero: false},
        axisTick: {show: true, length: 13, lineStyle: {color: '#000', width: 3}, customValues: xTicks},
        axisLabel: {show: g === 2, customValues: xTicks, formatter: fmtTime, margin: 27,
                    fontSize: 38, color: '#000', fontFamily: FONT},
        splitLine: {show: true, lineStyle: {color: '#b0b0b0', width: 3}}
    });
    yAxes.push({
        type: 'value', gridIndex: g, min: yLimits[g][0], max: yLimits[g][1], splitNumber: splitNumbers[g],
        axisLine: {show: false, onZero: false},
        axisTick: {show: true, length: 13, lineStyle: {color: '#000', width: 3}, customValues: yTicks[g]},
        axisLabel: {customValues: yTicks[g], formatter: fmtY, margin: 27,
                    fontSize: 38, color: '#000', fontFamily: FONT},
        splitLine: {show: true, lineStyle: {color: '#b0b0b0', width: 3}}
    });
}

var series = [{
    name: 'Detrended signal', type: 'line', xAxisIndex: 0, yAxisIndex: 0,
    data: toPairs(0, signal), showSymbol: false, symbol: 'none', color: '#808080',
    lineStyle: {color: '#808080', width: 3.6}
}];
var meanNames = [], turbNames = [];
for (var i = 0; i < windows.length; i++) {
    var mName = 'Mean ' + windows[i] + ' min';
    meanNames.push(mName);
    series.push({
        name: mName, type: 'line', xAxisIndex: 1, yAxisIndex: 1, data: means[i],
        showSymbol: false, symbol: 'none', color: jetColors[i],
        lineStyle: {color: jetColors[i], width: 3.4}
    });
}
for (var j = 0; j < windows.length; j++) {
    var tName = 'Turbulence ' + windows[j] + ' min';
    turbNames.push(tName);
    series.push({
        name: tName, type: 'line', xAxisIndex: 2, yAxisIndex: 2, data: toPairs(turbStart[j], turbs[j]),
        showSymbol: false, symbol: 'none', color: jetColors[j],
        lineStyle: {color: jetColors[j], width: 3.6}
    });
}

function legendFor(names, top) {
    return {
        data: names, orient: 'vertical', left: 2408, top: top,
        icon: 'rect', itemWidth: 86, itemHeight: 4, itemGap: 13,
        padding: [14, 16, 14, 15],
        backgroundColor: 'rgba(255,255,255,0.8)', borderColor: '#cccccc', borderWidth: 3, borderRadius: 8,
        textStyle: {fontSize: 41, fontFamily: FONT, color: '#000', lineHeight: 48, padding: [0, 0, 0, 29]},
        selectedMode: false
    };
}

chart.setOption({
    animation: false,
    backgroundColor: '#fff',
    title: {
        text: 'Pressure [hPa]\n12.08.2023:  12:00 -  13:00\n(EXPE, 1 Hz)',
        left: 'center', top: 22,
        textStyle: {fontSize: 50, fontWeight: 'bold', color: '#808080', fontFamily: FONT, lineHeight: 56}
    },
    grid: grids,
    xAxis: xAxes,
    yAxis: yAxes,
    legend: [legendFor(['Detrended signal'], 455), legendFor(meanNames, 879), legendFor(turbNames, 1484)],
    series: series
});
</script>
</body>
</html>
